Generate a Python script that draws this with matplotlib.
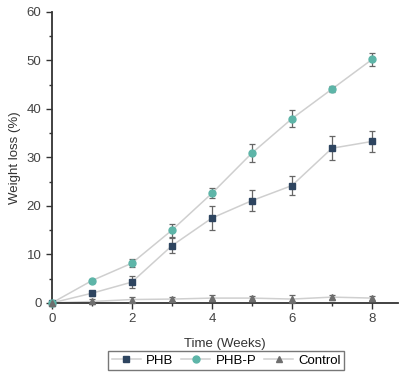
import numpy as np
import matplotlib.pyplot as plt

plt.rcParams['font.family'] = ['Liberation Sans', 'DejaVu Sans']

# Data
weeks = [0, 1, 2, 3, 4, 5, 6, 7, 8]
phb = [0, 2.0, 4.3, 11.8, 17.5, 21.1, 24.2, 31.9, 33.3]
phb_err = [0, 0.5, 1.2, 1.5, 2.5, 2.2, 2.0, 2.5, 2.2]
phbp = [0, 4.6, 8.2, 15.0, 22.6, 30.9, 38.0, 44.1, 50.2]
phbp_err = [0, 0.4, 0.8, 1.3, 1.0, 1.8, 1.7, 0.7, 1.3]
control = [0, 0.3, 0.7, 0.8, 1.0, 1.0, 0.8, 1.2, 1.0]
control_err = [0, 0.6, 0.6, 0.5, 0.6, 0.5, 0.9, 0.5, 0.5]

fig = plt.figure(figsize=(4.02, 3.74), dpi=100)
ax = fig.add_axes([0.129, 0.19, 0.861, 0.778])

line_col = '#cfcfcf'
series = [
    (phb, phb_err, 's', '#2e4560', 'PHB'),
    (phbp, phbp_err, 'o', '#5db5a8', 'PHB-P'),
    (control, control_err, '^', '#6e6e6e', 'Control'),
]
handles = []
for vals, err, mk, col, lab in series:
    ax.errorbar(weeks, vals, yerr=err, fmt='none', ecolor='#666666',
                elinewidth=0.9, capsize=2.5, capthick=0.9, clip_on=False, zorder=3)
    ax.plot(weeks, vals, '-', color=line_col, lw=1.1, zorder=2, clip_on=False)
    ax.plot(weeks, vals, mk, color=col, ms=5, mec=col, zorder=4, clip_on=False)
    h, = ax.plot([], [], '-', marker=mk, color=line_col, mfc=col, mec=col, ms=5, lw=1.1, label=lab)
    handles.append(h)

ax.set_xlim(0, 8.65)
ax.set_ylim(0, 60)
ax.set_xticks([0, 2, 4, 6, 8])
ax.set_xticks([1, 3, 5, 7], minor=True)
ax.set_yticks(np.arange(0, 61, 10))
ax.set_yticks(np.arange(5, 60, 10), minor=True)
for s in ['top', 'right']:
    ax.spines[s].set_visible(False)
for s in ['left', 'bottom']:
    ax.spines[s].set_linewidth(1.3)
    ax.spines[s].set_color('#333333')
ax.tick_params(which='major', length=4, width=1, colors='#333333', labelsize=9.5, labelcolor='#444444')
ax.tick_params(which='minor', length=2.5, width=1, colors='#333333')
ax.set_xlabel('Time (Weeks)', fontsize=9.5, color='#333333', labelpad=9)
ax.set_ylabel('Weight loss (%)', fontsize=9.5, color='#333333')

fig.legend(handles=handles, loc='center', bbox_to_anchor=(0.563, 0.035), ncol=3,
           fontsize=9.5, frameon=True, fancybox=False, edgecolor='#555555',
           handlelength=2.2, handletextpad=0.4, columnspacing=0.6, borderpad=0.25)

plt.savefig('out.png', dpi=100)
